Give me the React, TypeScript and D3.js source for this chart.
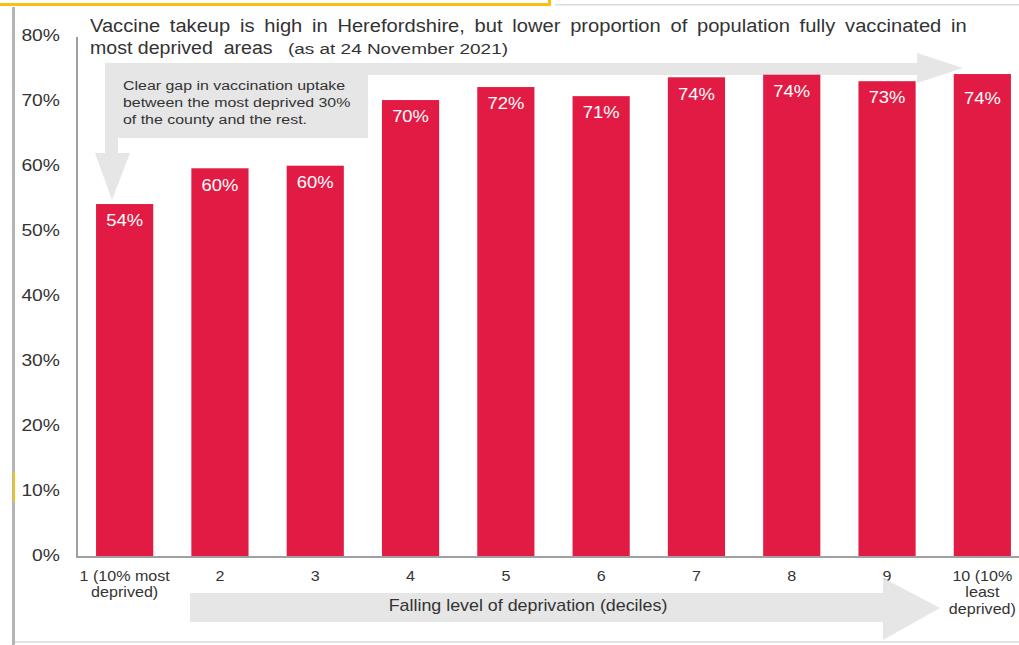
import React from "react";
import * as d3 from "d3";

const categories = ["1", "2", "3", "4", "5", "6", "7", "8", "9", "10"];
const categoryLabels = [
  ["1 (10% most", "deprived)"],
  ["2"], ["3"], ["4"], ["5"], ["6"], ["7"], ["8"], ["9"],
  ["10 (10%", "least", "deprived)"],
];
const values = [0.543, 0.598, 0.602, 0.703, 0.723, 0.709, 0.738, 0.742, 0.732, 0.743];
const valueLabels = ["54%", "60%", "60%", "70%", "72%", "71%", "74%", "74%", "73%", "74%"];
const yTicks = [0, 0.1, 0.2, 0.3, 0.4, 0.5, 0.6, 0.7, 0.8];

const titleLine1 = "Vaccine takeup is high in Herefordshire, but lower proportion of population fully vaccinated in";
const titleLine2 = "most deprived\u00a0 areas";
const titleSub = "(as at 24 November 2021)";
const noteLines = ["Clear gap in vaccination uptake", "between the most deprived 30%", "of the county and the rest."];
const xAxisTitle = "Falling level of deprivation (deciles)";

const FONT = "'Liberation Sans', Arial, sans-serif";
const SX = 1.15;

function T({ x, y, size, anchor = "start", fill = "#333", sx = SX, children }: any) {
  return (
    <text
      transform={`translate(${x},${y}) scale(${sx},1)`}
      fontSize={size}
      fill={fill}
      textAnchor={anchor}
      dominantBaseline="middle"
    >
      {children}
    </text>
  );
}

export default function App() {
  const x = d3.scaleBand<string>().domain(categories).range([77, 1030]).paddingInner(0.4).paddingOuter(0.2);
  const y = d3.scaleLinear().domain([0, 0.8]).range([557, 37]);
  const fmt = d3.format(".0%");
  const cx = (c: string) => (x(c) as number) + x.bandwidth() / 2;

  return (
    <svg width={1019} height={645} style={{ position: "absolute", left: 0, top: 0, background: "#fff" }} fontFamily={FONT}>
      <rect x={0} y={0} width={1019} height={645} fill="#fff" />
      {/* frame */}
      <rect x={0} y={3} width={551} height={3} fill="#FBBF0F" />
      <rect x={548} y={0} width={3} height={6} fill="#FBBF0F" />
      <rect x={555} y={4} width={464} height={1.5} fill="#dcdcdc" />
      <rect x={12} y={7} width={3} height={638} fill="#b5b5b5" />
      <rect x={13} y={472} width={2} height={30} fill="#FBBF0F" />
      <rect x={15} y={641} width={1004} height={2} fill="#e2e2e2" />

      {/* annotation arrow */}
      <path
        d="M105,63 L917,63 L917,53 L963,68 L917,83 L917,75 L368,75 L368,138 L118,138 L118,153 L130,153 L112,200 L95,153 L105,153 Z"
        fill="#e6e6e6"
      />
      {noteLines.map((t, i) => (
        <T key={i} x={123} y={86 + i * 17} size={13.5} sx={1.18}>{t}</T>
      ))}

      {/* title */}
      <text transform="translate(90,32) scale(1.06,1)" fontSize={19} fill="#333" wordSpacing={3.9}>{titleLine1}</text>
      <text transform="translate(90,54) scale(1.03,1)" fontSize={19} fill="#333">{titleLine2}</text>
      <text x={288} y={54} fontSize={15.5} fill="#333" textLength={220} lengthAdjust="spacingAndGlyphs">{titleSub}</text>

      {/* y axis */}
      {yTicks.map((t) => (
        <T key={t} x={60} y={y(t)} size={16.5} anchor="end" sx={1.17}>{fmt(t)}</T>
      ))}
      <line x1={77} x2={77} y1={37} y2={558} stroke="#a0a0a0" strokeWidth={2} />

      {/* bars */}
      {categories.map((c, i) => (
        <g key={c}>
          <rect x={x(c)} y={y(values[i])} width={x.bandwidth()} height={y(0) - y(values[i])} fill="#E21B44" />
          <T x={cx(c)} y={y(values[i]) + (i === categories.length - 1 ? 26 : 18)} size={16} anchor="middle" fill="#fff">
            {valueLabels[i]}
          </T>
        </g>
      ))}
      <line x1={76} x2={1019} y1={557} y2={557} stroke="#a0a0a0" strokeWidth={2} />

      {/* x labels */}
      {categories.map((c, i) => (
        <g key={c}>
          {categoryLabels[i].map((l, j) => (
            <T key={j} x={cx(c)} y={577 + j * 16.5} size={14} anchor="middle">{l}</T>
          ))}
        </g>
      ))}

      {/* bottom arrow */}
      <path d="M190,593 L883,593 L883,578 L940,608 L883,640 L883,622 L190,622 Z" fill="#e6e6e6" />
      <T x={528} y={607} size={17} anchor="middle" sx={1.05}>{xAxisTitle}</T>
    </svg>
  );
}
